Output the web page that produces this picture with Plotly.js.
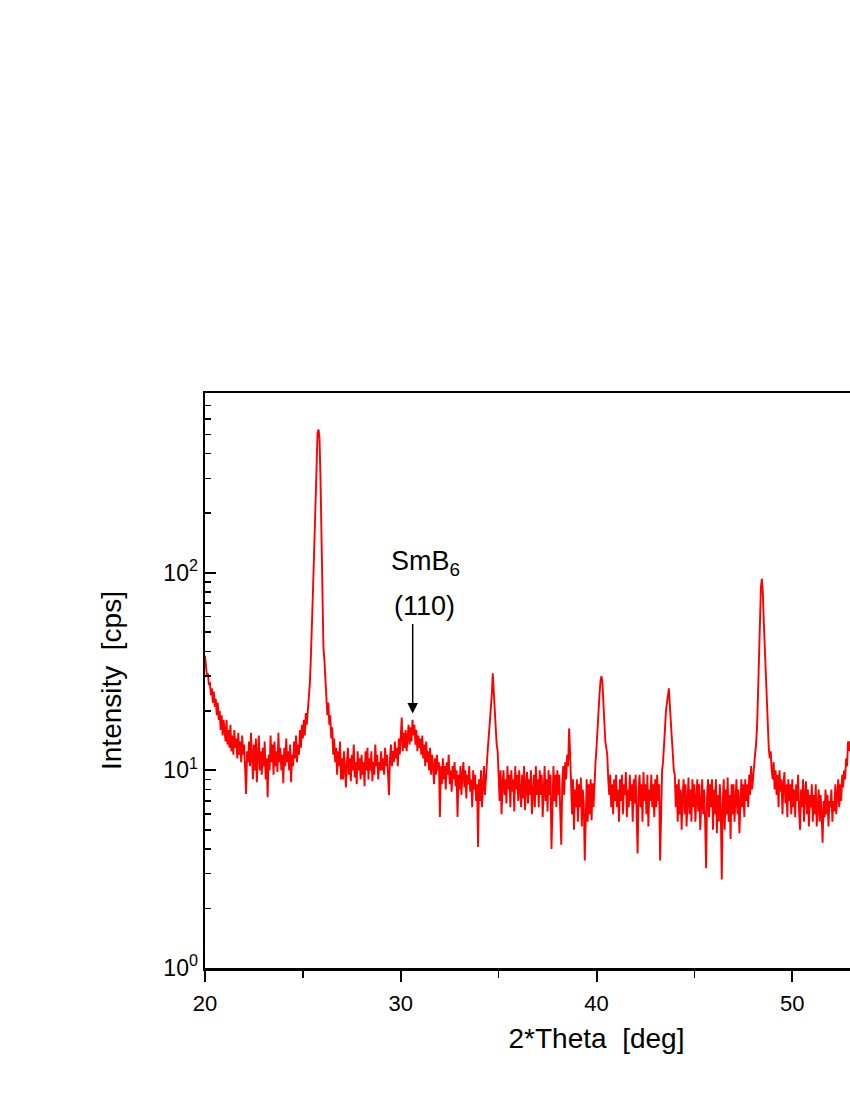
<!DOCTYPE html>
<html>
<head>
<meta charset="utf-8">
<script src="https://cdn.plot.ly/plotly-3.0.1.min.js"></script>
<style>
html,body{margin:0;padding:0;background:#fff;overflow:hidden;width:850px;height:1100px}
#chart{width:1000px;height:1100px}
</style>
</head>
<body>
<div id="chart"></div>
<script>
// XRD scan: 2θ from scanStart in steps of scanStep (deg)
const scanStart = 20.0;
const scanStep = 0.05;
// Intensity [cps], one row per degree (20 readings per row)
const intensity = [
/*20*/ 38,34,30,31,27,28,24,26,22,25,21,23,19,22,18,20,16,19,15,18,
/*21*/ 16,14,18,13.5,16,13,17,12.5,15,12,16,13,14.5,11.5,15.5,12,14,11,15,12,
/*22*/ 13.5,10,7.6,12.5,11,14,10.5,15.5,11,9,13.5,10,14.5,8.7,12,15,10,12.5,9.5,13,
/*23*/ 10.5,14,9,11.5,7.3,12,10,15,11,13.5,9.5,14,10.5,12.5,9.8,15.5,11,13,10,12,
/*24*/ 8.6,13,10.5,14.5,11,12.5,10,13.5,8.7,12,10.5,14,11.5,15,11,13.5,12,16,13,17,
/*25*/ 14.5,18,15,19.5,17,20,22,27,35,46,72,105,160,280,420,510,530,480,300,140,
/*26*/ 72,42,36,28,24,19,22,17,19,14.5,16.5,12,14.5,11,13,9.5,12.5,10.5,14,9,
/*27*/ 11.5,9,12.5,10,8.2,11,13,9.5,11.5,8.8,12,10,13.5,9.2,11,8.5,12.5,10,11.5,9,
/*28*/ 12,9.5,11,8.3,12.5,10,13,9,11.5,10,12.5,8.8,11,9.5,13.5,10.5,12,9,11,10,
/*29*/ 12.5,10,11.5,9.5,13,10.5,12,9.5,7.5,11.5,13.5,10.5,12.5,11,14,11.5,13,10.5,14.5,12,
/*30*/ 15,18.5,12.5,15.5,13,16,12.5,15,17,13.5,16.5,14,18,15,17,13.5,16,12.5,15,13,
/*31*/ 14.5,12,15,11.5,13.5,10.5,14,11,12.5,10,13,9.5,12,10.5,8.5,11.5,9.5,12,10,11,
/*32*/ 5.8,10.5,8.5,11.5,9,10.5,8,11,9.5,12,8.5,10,7.8,10.5,9,11,8.3,10,5.8,9.5,
/*33*/ 8,10.5,7.5,9.5,11,8.2,10,7.2,9.5,8.5,10.5,7.8,9,6.5,10,8,9.5,7,8.5,4.1,
/*34*/ 9,7,10,6.5,8.5,10.5,7.5,9.5,11.5,13,15,17.5,19,24,31,25,21,16,13.5,12.5,
/*35*/ 9.5,7,10,6,8.5,10,7.5,9,6.8,10.5,8,9.5,6.5,10,7.8,9,6.2,10.5,8,9.5,
/*36*/ 7,10,8,6.5,9.5,7.2,10.5,6.3,8.5,9.8,6.8,9,7.5,10,6,8.5,9.5,6.5,10.5,7.5,
/*37*/ 9,6.5,10,7.5,9.5,5.8,8.5,10.5,7,9,6.2,10,7.5,9.5,4.0,8.5,10.5,7,9.5,6.5,
/*38*/ 10,7.5,9.5,6,4.2,8.5,10.5,7.5,11,9,12,10.5,16.3,12.5,8,6,9,5,8,6.5,
/*39*/ 9,5.5,8.5,6.5,9.2,5.2,8,6.8,3.5,7.5,9,5.5,8.5,6,9,5.6,8.6,6.5,9,11,
/*40*/ 13,17,21,24,28,30,28,22,17,14,13,12,9,7.5,9.5,6.5,8.5,6,9,7,
/*41*/ 9.5,6.5,8,5.5,9,7,9.5,6,8.5,7.5,9.8,5.8,8,6.5,9.5,7,8.5,5.5,9,6.8,
/*42*/ 9.5,6,3.8,8,9.5,6.5,8.5,5.5,9.8,7,8.5,6,9.5,5.2,8,7,9.5,6.5,8.5,5.8,
/*43*/ 9,6.5,9.5,7,8.5,3.5,8,10,11,14,17,20,22,24,26,21,17,14,12.5,10,
/*44*/ 9.5,6.5,8.5,5.5,9,6,8,5,7.5,9,6,8.5,5.2,7.5,9.2,6,8,5.5,9,6.5,
/*45*/ 8.5,5.5,7.8,9,6.2,8.5,5,7,9,6,8,5.5,3.2,7.5,9,5.8,8.5,6.5,9,5,
/*46*/ 8,6,9,4.8,7.5,5.5,8.5,6.2,2.8,7,9,5,8,6,9.2,5.5,7.5,4.5,8.5,6,
/*47*/ 8.5,5.5,7.5,9,6,8,4.8,7,9,6.5,8.5,5.8,9,7,8.5,6.5,9.5,7.5,10.5,8,
/*48*/ 9.5,11,12,13.5,16.5,24,40,62,85,93,78,55,40,30,21,17,13,11.5,12.5,10,
/*49*/ 9,11,8,10,7.5,9.5,6.5,10,7.8,9,6,8.5,9.8,6.8,8.5,5.8,9,7,8.5,6,
/*50*/ 9,6.5,8,5.8,8.5,7,9.5,6.2,5,8,6.5,9,5.5,7.5,8.8,6,8,5.2,7.5,6.5,
/*51*/ 8.5,5.5,7.5,6,8.5,5.2,7,8,5.5,7.5,6,4.3,7,5.8,8,6,7.5,5.2,7,6.5,
/*52*/ 8,5.5,7,6.2,8.5,6,7.5,9,6.5,8.5,7,9.5,8.2,10,9,11.5,10.5,14,12.5,14,
/*53*/ 13,15,16
];
const twoTheta = intensity.map((_, i) => +(scanStart + i * scanStep).toFixed(2));

const xTickVals = [20, 30, 40, 50];
const xTickText = ['20', '30', '40', '50'];
const xMinorVals = [25, 35, 45, 55];
const yTickVals = [1, 10, 100];
const yTickText = ['10<sup>0</sup>', '10<sup>1</sup>', '10<sup>2</sup>'];
const yMinorVals = [2,3,4,5,6,7,8,9,20,30,40,50,60,70,80,90,200,300,400,500,600,700];

const peakLabel = 'SmB<sub>6</sub>';
const peakIndex = '(110)';

const FONT = 'Liberation Sans, Arial, Helvetica, sans-serif';

const trace = {
  x: twoTheta,
  y: intensity,
  type: 'scatter',
  mode: 'lines',
  line: {color: '#ff0000', width: 1.9},
  hoverinfo: 'x+y'
};

const layout = {
  width: 1000,
  height: 1100,
  margin: {l: 205, r: 12, t: 393, b: 132, pad: 0},
  paper_bgcolor: '#ffffff',
  plot_bgcolor: '#ffffff',
  showlegend: false,
  font: {family: FONT, color: '#000', size: 22},
  xaxis: {
    range: [20, 60],
    tickmode: 'array',
    tickvals: xTickVals,
    ticktext: xTickText,
    ticks: 'outside',
    ticklen: 11,
    tickwidth: 2,
    tickcolor: '#000',
    ticklabelstandoff: 3,
    minor: {tickmode: 'array', tickvals: xMinorVals, ticks: 'outside', ticklen: 7, tickwidth: 1.6, tickcolor: '#000', showgrid: false},
    showgrid: false,
    zeroline: false,
    showline: true,
    linecolor: '#000',
    linewidth: 2.5,
    mirror: true,
    tickfont: {family: FONT, size: 22, color: '#000'},
    title: {text: '2*Theta\u00a0 [deg]', font: {family: FONT, size: 28, color: '#000'}, standoff: 14},
    automargin: false
  },
  yaxis: {
    type: 'log',
    range: [0, 2.909],
    tickmode: 'array',
    tickvals: yTickVals,
    ticktext: yTickText,
    ticks: 'inside',
    ticklen: 11,
    tickwidth: 2,
    tickcolor: '#000',
    minor: {tickmode: 'array', tickvals: yMinorVals, ticks: 'inside', ticklen: 6, tickwidth: 1.6, tickcolor: '#000', showgrid: false},
    showgrid: false,
    zeroline: false,
    showline: true,
    linecolor: '#000',
    linewidth: 2.5,
    mirror: true,
    tickfont: {family: FONT, size: 23, color: '#000'},
    title: {text: 'Intensity\u00a0 [cps]', font: {family: FONT, size: 28, color: '#000'}, standoff: 34},
    automargin: false
  },
  annotations: [
    {x: 31.24, y: 2.047, xref: 'x', yref: 'y', text: peakLabel, showarrow: false,
     xanchor: 'center', yanchor: 'middle', font: {family: FONT, size: 27, color: '#000'}},
    {x: 31.19, y: 1.83, xref: 'x', yref: 'y', text: peakIndex, showarrow: false,
     xanchor: 'center', yanchor: 'middle', font: {family: FONT, size: 27, color: '#000'}},
    {x: 30.61, y: 1.288, xref: 'x', yref: 'y', text: '', showarrow: true,
     ax: 0, ay: -91, arrowhead: 2, arrowsize: 1.4, arrowwidth: 1.5, arrowcolor: '#000', standoff: 0}
  ]
};

Plotly.newPlot('chart', [trace], layout, {displayModeBar: false, staticPlot: true});
</script>
</body>
</html>
